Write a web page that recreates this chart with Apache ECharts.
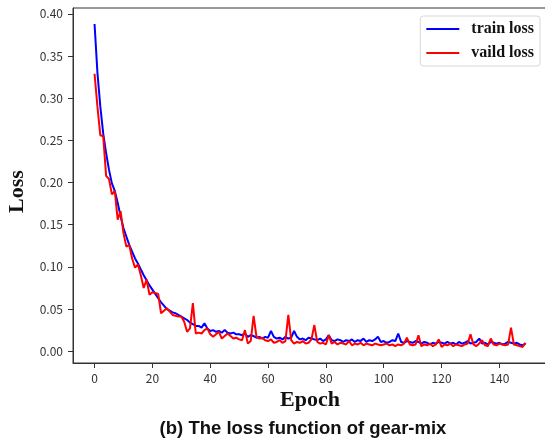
<!DOCTYPE html>
<html>
<head>
<meta charset="utf-8">
<script src="https://cdn.jsdelivr.net/npm/echarts@6/dist/echarts.min.js"></script>
<style>html,body{margin:0;padding:0;background:#fff}#c{width:545px;height:438px}</style>
</head>
<body>
<div id="c"></div>
<script>
var trainLoss = [
0.388,0.330,0.290,0.258,0.235,0.215,0.199,0.190,0.176,0.160,
0.146,0.136,0.126,0.118,0.110,0.104,0.097,0.090,0.084,0.078,
0.073,0.068,0.063,0.058,0.054,0.050,0.048,0.046,0.045,0.043,
0.041,0.039,0.037,0.034,0.032,0.030,0.030,0.028,0.033,0.027,
0.024,0.025,0.023,0.024,0.022,0.025,0.022,0.021,0.022,0.020,
0.020,0.019,0.021,0.017,0.019,0.018,0.016,0.017,0.015,0.017,
0.016,0.024,0.017,0.015,0.016,0.014,0.017,0.015,0.016,0.024,
0.017,0.014,0.015,0.013,0.016,0.015,0.014,0.013,0.015,0.012,
0.014,0.019,0.013,0.012,0.014,0.013,0.011,0.013,0.012,0.014,
0.011,0.013,0.012,0.015,0.011,0.013,0.012,0.014,0.017,0.011,
0.012,0.010,0.011,0.013,0.012,0.021,0.011,0.010,0.012,0.011,
0.010,0.012,0.011,0.009,0.011,0.010,0.008,0.010,0.009,0.011,
0.010,0.009,0.011,0.009,0.010,0.008,0.011,0.009,0.010,0.012,
0.009,0.010,0.011,0.015,0.009,0.010,0.008,0.011,0.010,0.009,
0.010,0.008,0.009,0.011,0.010,0.009,0.010,0.008,0.007,0.009
];
var validLoss = [
0.329,0.290,0.256,0.255,0.208,0.204,0.186,0.190,0.156,0.166,
0.140,0.124,0.126,0.110,0.099,0.103,0.090,0.075,0.085,0.067,
0.070,0.069,0.068,0.045,0.048,0.051,0.047,0.043,0.042,0.041,
0.041,0.035,0.023,0.027,0.057,0.021,0.022,0.021,0.025,0.027,
0.020,0.017,0.020,0.023,0.015,0.018,0.021,0.018,0.015,0.016,
0.014,0.013,0.025,0.009,0.012,0.042,0.017,0.015,0.016,0.013,
0.012,0.014,0.010,0.011,0.013,0.010,0.012,0.043,0.013,0.009,
0.011,0.010,0.012,0.009,0.010,0.014,0.031,0.011,0.009,0.010,
0.008,0.019,0.009,0.011,0.008,0.010,0.009,0.008,0.012,0.007,
0.009,0.008,0.010,0.007,0.009,0.008,0.007,0.009,0.008,0.007,
0.008,0.009,0.007,0.008,0.006,0.008,0.007,0.009,0.016,0.008,
0.007,0.008,0.019,0.006,0.008,0.007,0.009,0.006,0.008,0.014,
0.005,0.008,0.007,0.009,0.006,0.008,0.007,0.006,0.008,0.009,
0.020,0.008,0.006,0.009,0.013,0.007,0.006,0.015,0.008,0.007,
0.009,0.008,0.007,0.008,0.028,0.008,0.007,0.006,0.005,0.010
];
var xTicks = [0, 20, 40, 60, 80, 100, 120, 140];
var yTicks = [0.00, 0.05, 0.10, 0.15, 0.20, 0.25, 0.30, 0.35, 0.40];
var seriesNames = ['train loss', 'vaild loss'];
var xName = 'Epoch', yName = 'Loss';
var captionText = '(b) The loss function of gear-mix';

function pairs(arr){ return arr.map(function(v,i){ return [i, v]; }); }

var chart = echarts.init(document.getElementById('c'), null, {renderer:'canvas'});
var tickFont = {fontFamily:'"Noto Sans CJK SC", "DejaVu Sans", sans-serif', fontSize:12, color:'#333'};
chart.setOption({
  animation:false,
  backgroundColor:'#fff',
  grid:{left:73, top:8, width:474, height:355, show:true, borderColor:'#333', borderWidth:1, containLabel:false, outerBoundsMode:'none'},
  legend:{
    right:5, top:16, orient:'vertical', itemGap:8,
    padding:[5,6,5,6],
    backgroundColor:'#fff', borderColor:'#d8d8d8', borderWidth:1, borderRadius:3,
    icon:'rect', itemWidth:33, itemHeight:2,
    textStyle:{fontFamily:'"Liberation Serif", serif', fontWeight:'bold', fontSize:16, color:'#111', padding:[0,0,0,7]},
    data:seriesNames
  },
  xAxis:{
    type:'value', min:-7.45, max:156.45,
    name:xName, nameLocation:'middle', nameGap:24,
    nameTextStyle:{fontFamily:'"Liberation Serif", serif', fontWeight:'bold', fontSize:22, color:'#111'},
    axisLine:{show:true, onZero:false, lineStyle:{color:'#333', width:1}},
    axisTick:{show:true, length:5, customValues:xTicks, lineStyle:{color:'#333'}},
    axisLabel:Object.assign({customValues:xTicks, margin:9}, tickFont),
    splitLine:{show:false}
  },
  yAxis:{
    type:'value', min:-0.014, max:0.407,
    name:yName, nameLocation:'middle', nameGap:43, nameRotate:90,
    nameTextStyle:{fontFamily:'"Liberation Serif", serif', fontWeight:'bold', fontSize:22, color:'#111', padding:[0,12,0,0]},
    axisLine:{show:true, onZero:false, lineStyle:{color:'#333', width:1}},
    axisTick:{show:true, length:5, customValues:yTicks, lineStyle:{color:'#333'}},
    axisLabel:Object.assign({customValues:yTicks, margin:10, formatter:function(v){return v.toFixed(2);}}, tickFont),
    splitLine:{show:false}
  },
  series:[
    {name:seriesNames[0], type:'line', data:pairs(trainLoss), showSymbol:false, symbol:'none', color:'#0000ff', lineStyle:{width:2, color:'#0000ff'}, z:2},
    {name:seriesNames[1], type:'line', data:pairs(validLoss), showSymbol:false, symbol:'none', color:'#ff0000', lineStyle:{width:2, color:'#ff0000'}, z:3}
  ],
  graphic:[{
    type:'text', x:303, y:429,
    style:{text:captionText, fill:'#111', font:'bold 18.5px "Liberation Sans", Arial, sans-serif', textAlign:'center', textVerticalAlign:'middle'}
  }]
});
</script>
</body>
</html>
